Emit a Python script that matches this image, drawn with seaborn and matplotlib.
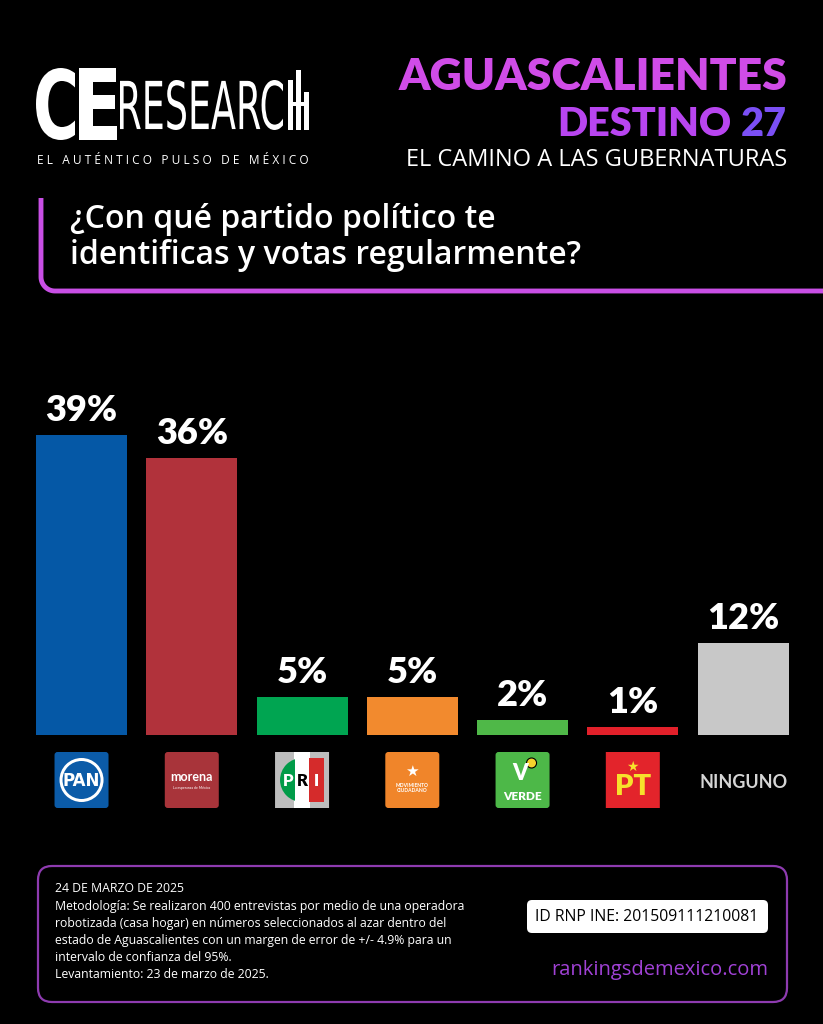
import matplotlib
matplotlib.use("Agg")
import numpy as np
import pandas as pd
import matplotlib.pyplot as plt
import seaborn as sns
from matplotlib.patches import FancyBboxPatch, Circle, PathPatch, Rectangle
from matplotlib.textpath import TextPath
from matplotlib.font_manager import FontProperties
from matplotlib.transforms import Affine2D

# =========================
# DATA
# =========================
partidos = ["PAN", "MORENA", "PRI", "MC", "VERDE", "PT", "NINGUNO"]
porcentajes = [39, 36, 5, 5, 2, 1, 12]
etiquetas = ["39%", "36%", "5%", "5%", "2%", "1%", "12%"]
colores = ["#0558A6", "#B1323B", "#00A551", "#F28A2E", "#4FB848", "#E2202A", "#C8C8C8"]

titulo = "AGUASCALIENTES"
subtitulo = "DESTINO"
numero = "27"
lema = "EL CAMINO A LAS GUBERNATURAS"
pregunta = "¿Con qué partido político te\nidentificas y votas regularmente?"
notas = [
    "24 DE MARZO DE 2025",
    "Metodología: Se realizaron 400 entrevistas por medio de una operadora",
    "robotizada (casa hogar) en números seleccionados al azar dentro del",
    "estado de Aguascalientes con un margen de error de +/- 4.9% para un",
    "intervalo de confianza del 95%.",
    "Levantamiento: 23 de marzo de 2025.",
]
registro = "ID RNP INE: 201509111210081"
sitio = "rankingsdemexico.com"

df = pd.DataFrame({"partido": partidos, "pct": porcentajes})

# =========================
# STYLE
# =========================
sns.set_theme(style="dark", rc={"axes.facecolor": "black", "figure.facecolor": "black"})
plt.rcParams["font.family"] = ["Lato", "DejaVu Sans"]

W, H = 823, 1024
fig = plt.figure(figsize=(W / 100, H / 100), dpi=100)
fig.patch.set_facecolor("black")

# pixel coords measured from top-left
pix = Affine2D().scale(1, -1).translate(0, H)


def fx(x):
    return x / W


def fy(y):
    return 1 - y / H


def txt(x, y, s, **kw):
    return fig.text(x, y, s, transform=pix, **kw)


# =========================
# BARS
# =========================
ax = fig.add_axes([fx(26.4), fy(735), (798.2 - 26.4) / W, (735 - 350) / H])
sns.barplot(data=df, x="partido", y="pct", hue="partido",
            palette=dict(zip(partidos, colores)), width=0.825,
            saturation=1, legend=False, ax=ax, linewidth=0, edgecolor="none")
ax.set_xlim(-0.5, 6.5)
ax.set_ylim(0, 50)
ax.axis("off")
for i, (v, lab) in enumerate(zip(porcentajes, etiquetas)):
    ax.annotate(lab, (i, v), xytext=(0, 10), textcoords="offset points",
                ha="center", va="baseline", color="white",
                fontsize=26, fontweight="heavy")

fig.canvas.draw()
centros = [ax.transData.transform((i, 0))[0] for i in range(len(partidos))]
cy = 780


def caja(cx, color, w=54, h=56, r=3):
    p = FancyBboxPatch((cx - w / 2, cy - h / 2), w, h,
                       boxstyle=f"round,pad=0,rounding_size={r}",
                       fc=color, ec="none", transform=pix)
    fig.add_artist(p)


# PAN
c = centros[0]
caja(c, "#0B5BA8")
fig.add_artist(Circle((c, cy), 22, fc="white", ec="none", transform=pix))
fig.add_artist(Circle((c, cy), 19, fc="#0B5BA8", ec="none", transform=pix))
txt(c, cy + 1, "PAN", ha="center", va="center", color="white",
    fontsize=12, fontweight="bold", family="DejaVu Sans Condensed")
# MORENA
c = centros[1]
caja(c, "#A8343A")
txt(c, cy - 3, "morena", ha="center", va="center", color="white",
    fontsize=9, fontweight="bold")
txt(c, cy + 8, "La esperanza de México", ha="center", va="center",
    color="white", fontsize=2.5)
# PRI
c = centros[2]
caja(c, "#BDBDBD", r=0)
fig.add_artist(Rectangle((c - 8, cy - 28), 16, 56, fc="white", ec="none", transform=pix))
fig.add_artist(Circle((c, cy), 22, fc="#009B48", ec="none", transform=pix))
fig.add_artist(Rectangle((c - 7, cy - 22), 14, 44, fc="white", ec="none", transform=pix))
fig.add_artist(Rectangle((c + 7, cy - 22), 15, 44, fc="#D52B2B", ec="none", transform=pix))
txt(c - 14, cy + 1, "P", ha="center", va="center", color="white", fontsize=12, fontweight="heavy")
txt(c, cy + 1, "R", ha="center", va="center", color="black", fontsize=12, fontweight="heavy")
txt(c + 14, cy + 1, "I", ha="center", va="center", color="white", fontsize=12, fontweight="heavy")
# MC
c = centros[3]
caja(c, "#F0852A")
txt(c, cy - 8, "\u2605", ha="center", va="center", color="white", fontsize=11)
txt(c, cy + 8, "MOVIMIENTO\nCIUDADANO", ha="center", va="center", color="white",
    fontsize=3.6, fontweight="bold", linespacing=1.1)
# VERDE
c = centros[4]
caja(c, "#4DB848")
txt(c - 2, cy - 6, "V", ha="center", va="center", color="white", fontsize=16, fontweight="heavy")
fig.add_artist(Circle((c + 9, cy - 17), 5, fc="#F6D32D", ec="black", lw=0.8, transform=pix))
txt(c, cy + 17, "VERDE", ha="center", va="center", color="white", fontsize=8.5, fontweight="heavy")
# PT
c = centros[5]
caja(c, "#E3242B", r=0)
txt(c, cy - 13, "\u2605", ha="center", va="center", color="#F7E12B", fontsize=10)
txt(c, cy + 7, "PT", ha="center", va="center", color="#F7E12B", fontsize=21, fontweight="heavy")
# NINGUNO
txt(centros[6], cy + 3, "NINGUNO", ha="center", va="center", color="#D5D5D5",
    fontsize=13, fontweight="bold")


# =========================
# HEADER
# =========================
def path_txt(s, x, base, ancho, alto, peso, familia="DejaVu Sans"):
    tp = TextPath((0, 0), s, size=100, prop=FontProperties(family=familia, weight=peso))
    ext = tp.get_extents()
    t = (Affine2D().translate(-ext.x0, -ext.y0)
         .scale(ancho / ext.width, -alto / ext.height).translate(x, base) + pix)
    fig.add_artist(PathPatch(tp, fc="white", ec="none", transform=t))


path_txt("C", 36, 140, 39, 72, "heavy")
path_txt("E", 79, 140, 38, 72, "heavy")
path_txt("RESEARC", 120, 130, 163, 50, "normal")
# the stylised H with its bars
for x0, y0, y1 in [(288, 80, 130), (296, 70, 130), (304, 92, 130)]:
    fig.add_artist(Rectangle((x0, y0), 4.5, y1 - y0, fc="white", ec="none", transform=pix))
fig.add_artist(Rectangle((288, 102), 20, 4, fc="white", ec="none", transform=pix))
txt(37, 161, "E L   A U T É N T I C O   P U L S O   D E   M É X I C O",
    ha="left", va="center", color="white", fontsize=8.6, family="Open Sans")

txt(787, 90, titulo, ha="right", va="baseline", color="#D04CE8",
    fontsize=32, fontweight="heavy")
t27 = txt(787, 136, numero, ha="right", va="baseline", color="#7B4FF5",
          fontsize=28.5, fontweight="heavy")
fig.canvas.draw()
x27 = t27.get_window_extent().x0
txt(x27 - 10, 136, subtitulo, ha="right", va="baseline", color="#B845F0",
    fontsize=28.5, fontweight="heavy")
txt(787, 166, lema, ha="right", va="baseline", color="white",
    fontsize=17, family="Open Sans")

# question frame
mag = "#C94FE6"
r = 14
q = np.linspace(0, np.pi / 2, 20)
xs = [41, 41] + list(41 + r - r * np.cos(q)) + [823]
ys = [198, 291 - r] + list(291 - r + r * np.sin(q)) + [291]
fig.add_artist(plt.Line2D(xs, ys, color=mag, lw=3.5, transform=pix, solid_capstyle="butt"))
txt(70, 237, pregunta, ha="left", va="center", color="white", fontsize=23,
    fontweight="semibold", family="Open Sans", linespacing=1.12)

# =========================
# FOOTER
# =========================
fig.add_artist(FancyBboxPatch((38, 866), 749, 136, boxstyle="round,pad=0,rounding_size=14",
                              fc="black", ec="#8E3BB0", lw=1.6, transform=pix))
for k, linea in enumerate(notas):
    txt(55, 889 + k * 17.2, linea, ha="left", va="center", color="white",
        fontsize=8.8, family="Open Sans")
fig.add_artist(FancyBboxPatch((527, 900), 241, 33, boxstyle="round,pad=0,rounding_size=5",
                              fc="white", ec="none", transform=pix))
txt(647, 917, registro, ha="center", va="center", color="black", fontsize=11.3, family="Open Sans")
txt(768, 970, sitio, ha="right", va="center", color="#A142D6", fontsize=14.5, family="Open Sans")

fig.savefig("out.png", dpi=100, facecolor="black")
